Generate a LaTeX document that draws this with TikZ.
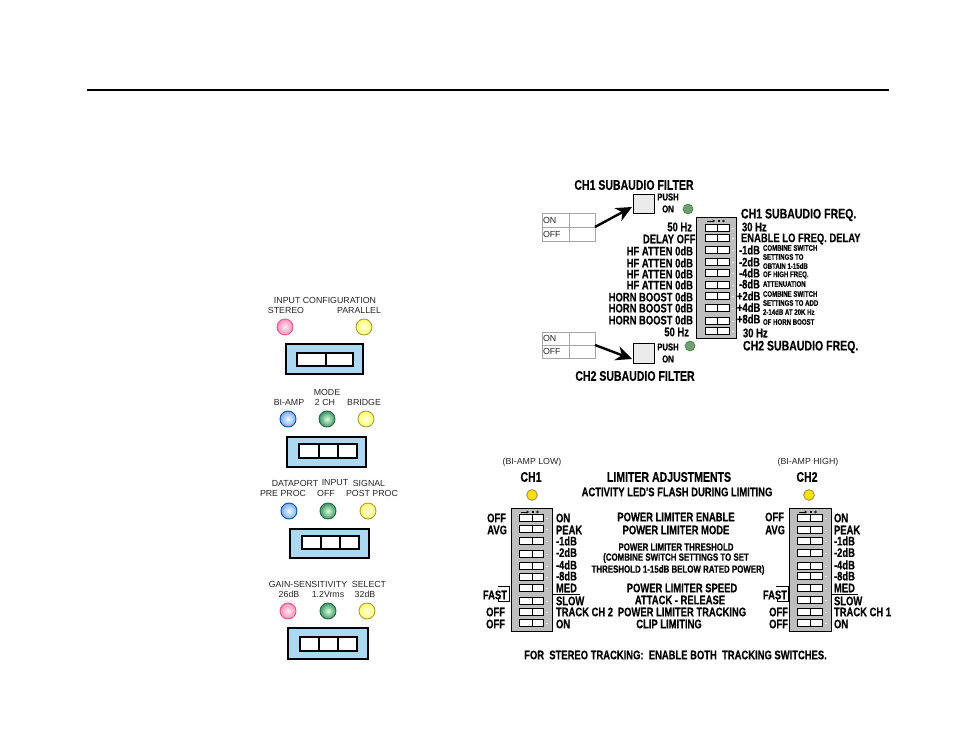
\documentclass[tikz,border=0pt]{standalone}
\usepackage{fontspec}
\usetikzlibrary{arrows.meta}
\setmainfont{Liberation Sans}
\newfontfamily\cb[FakeStretch=0.76,FakeBold=0.25]{Liberation Sans}
\definecolor{panelblue}{HTML}{ADD8F2}
\definecolor{panelgray}{HTML}{BEBEBE}
\definecolor{ledgreen}{HTML}{3F9468}
\tikzset{
  every node/.style={inner sep=0pt,outer sep=0pt},
  thinlab/.style={font=\fontsize{6.6pt}{7pt}\selectfont,text=black!85},
  fA/.style={font=\cb\bfseries\fontsize{10.4pt}{11pt}\selectfont},
  fB/.style={font=\cb\bfseries\fontsize{9.3pt}{10pt}\selectfont},
  fC/.style={font=\cb\bfseries\fontsize{7.8pt}{8pt}\selectfont},
  fD/.style={font=\cb\bfseries\fontsize{6pt}{6pt}\selectfont},
  fP/.style={font=\cb\bfseries\fontsize{7.6pt}{8pt}\selectfont},
  ledbase/.style={circle,draw=#1,line width=0.7pt,minimum size=12pt},
  ledpink/.style={ledbase=black!20!magenta!60!red!70,inner color=pink!30!white,outer color=magenta!45!red!45!white},
  ledyel/.style={ledbase=yellow!60!black,inner color=yellow!10,outer color=yellow!60!white},
  ledblue/.style={ledbase=blue!40!cyan!60!black,inner color=cyan!8,outer color=cyan!30!blue!50!white},
  ledgrn/.style={ledbase=ledgreen!70!black,inner color=white!85!green,outer color=ledgreen},
  subled/.style={circle,draw=green!35!black!70,fill=green!30!black!55!white,line width=0.6pt,minimum size=7.4pt},
  limled/.style={circle,draw=yellow!50!black,fill=yellow!92!red,line width=0.6pt,minimum size=8pt},
  bluebox/.style={draw=black,fill=panelblue,line width=0.8pt},
  inner/.style={draw=black,fill=white,line width=0.9pt},
  pushbtn/.style={draw=black,fill=black!8,line width=0.6pt},
  table/.style={draw=black!35,line width=0.5pt,fill=white},
  dippanel/.style={draw=black,fill=panelgray,line width=0.7pt},
  sw/.style={draw=black,fill=white,line width=0.7pt},
  bigarrow/.style={draw=black,line width=1.8pt,-{Stealth[length=12pt,width=11pt]}},
}
\newcount\lc
\newcommand\T[4][]{\global\advance\lc by 1\relax\node[name=L\the\lc,#1] at (#2,#3) {#4};}
% blue selector: x1 y1 x2 y2 ix1 iy1 ix2 iy2 and dividers
\newcommand\Sel[9]{%
  \global\advance\lc by 1\relax
  \node[name=B\the\lc,bluebox,anchor=north west,minimum width=#3*0.75pt-#1*0.75pt,minimum height=#4*0.75pt-#2*0.75pt] at (#1,#2) {};
  \node[name=I\the\lc,inner,anchor=north west,minimum width=#7*0.75pt-#5*0.75pt,minimum height=#8*0.75pt-#6*0.75pt] at (#5,#6) {};
  \foreach \d in {#9} \draw[line width=0.8pt] (\d,#6) -- (\d,#8);
}
% DIP switch row: x1 xm x2 y
\newcommand\Dip[4]{%
  \draw[sw] (#1,#4-3.2) rectangle (#3,#4+3.2);
  \draw[line width=0.7pt] (#2,#4-3.2) -- (#2,#4+3.2);
  \draw[white,line width=0.7pt] (#3+2.5,#4) -- (#3+5,#4);
}
\newcommand\DipHead[3]{%
  \draw[line width=0.5pt,-{Stealth[length=2pt,width=2pt]}] (#1+2,#3) -- (#1+10,#3);
  \fill (#1+13,#3-0.8) rectangle (#1+15,#3+0.8);
  \draw[line width=0.4pt] (#1+18.5,#3) circle (1);
}
\begin{document}
\begin{tikzpicture}[x=0.75pt,y=-0.75pt]
\useasboundingbox (0,0) rectangle (954,737);
\fill[white] (0,0) rectangle (954,737);
\draw[line width=1.1pt] (87,90) -- (889,90);

% --- left column
\T[thinlab]{325}{300}{INPUT CONFIGURATION}
\T[thinlab]{286}{310}{STEREO}
\T[thinlab]{359}{310}{PARALLEL}
\node[ledpink] (led1) at (285,327) {};
\node[ledyel] (led2) at (364,327) {};
\Sel{286}{344}{363}{374}{297}{353}{353}{366}{326}

\T[thinlab]{327}{392}{MODE}
\T[thinlab]{289}{402}{BI-AMP}
\T[thinlab]{325}{402}{2 CH}
\T[thinlab]{364}{402}{BRIDGE}
\node[ledblue] (led3) at (288,419) {};
\node[ledgrn] (led4) at (327,419) {};
\node[ledyel] (led5) at (366,419) {};
\Sel{287}{437}{366}{467}{299}{444}{357}{458}{319,338}

\T[thinlab]{295}{483}{DATAPORT}
\T[thinlab]{335}{483}{INPUT}
\T[thinlab]{369}{483}{SIGNAL}
\T[thinlab]{283}{493}{PRE PROC}
\T[thinlab]{326}{493}{OFF}
\T[thinlab]{372}{493}{POST PROC}
\node[ledblue] (led6) at (289,511) {};
\node[ledgrn] (led7) at (328,511) {};
\node[ledyel] (led8) at (368,511) {};
\Sel{290}{529}{369}{558}{302}{536}{359}{549}{321,340}

\T[thinlab]{308}{584}{GAIN-SENSITIVITY}
\T[thinlab]{369}{584}{SELECT}
\T[thinlab]{289}{594}{26dB}
\T[thinlab]{328}{594}{1.2Vrms}
\T[thinlab]{365}{594}{32dB}
\node[ledpink] (led9) at (288,611) {};
\node[ledgrn] (led10) at (328,611) {};
\node[ledyel] (led11) at (367,611) {};
\Sel{288}{628}{368}{659}{300}{637}{357}{651}{319,338}

% --- subaudio
\T[fA]{634}{185}{CH1 SUBAUDIO FILTER}
\T[fA]{635}{376}{CH2 SUBAUDIO FILTER}
\node[pushbtn,anchor=north west,minimum width=15.75pt,minimum height=14.25pt] (btnA) at (633,194) {};
\node[pushbtn,anchor=north west,minimum width=15.75pt,minimum height=15pt] (btnB) at (633,343) {};
\T[fP]{668}{197}{PUSH}
\T[fP]{668}{209}{ON}
\T[fP]{668}{347}{PUSH}
\T[fP]{668}{359}{ON}
\node[subled] (subled1) at (688,209) {};
\node[subled] (subled2) at (690,346) {};

\node[table,anchor=north west,minimum width=39.75pt,minimum height=21pt] (tabA) at (542,213) {};
\draw[table] (542,227) -- (595,227) (569,213) -- (569,241);
\T[anchor=west,thinlab]{543}{220}{ON}
\T[anchor=west,thinlab]{543}{234}{OFF}
\node[table,anchor=north west,minimum width=39.75pt,minimum height=19.5pt] (tabB) at (542,332) {};
\draw[table] (542,345) -- (595,345) (569,332) -- (569,358);
\T[anchor=west,thinlab]{543}{338.5}{ON}
\T[anchor=west,thinlab]{543}{351.5}{OFF}
\coordinate (inA) at (632,207);
\coordinate (inB) at (632,359);
\draw[bigarrow] (tabA.east) -- (inA);
\draw[bigarrow] (tabB.east) -- (inB);

\node[dippanel,anchor=north west,minimum width=30pt,minimum height=90.75pt] (dipS) at (696,217) {};
\foreach \y in {228,238,250,262,273,285,296,308,321,331} {\Dip{705}{717}{729}{\y}}
\DipHead{705}{717}{221}

\T[fB,anchor=east]{692}{227}{50 Hz}
\T[fB,anchor=east]{689}{332}{50 Hz}
\T[fB,anchor=east]{695.5}{239}{DELAY OFF}
\foreach \y in {251,263,274,285} {\node[fB,anchor=east] at (693,\y) {HF ATTEN 0dB};}
\foreach \y in {297,308,320} {\node[fB,anchor=east] at (693,\y) {HORN BOOST 0dB};}

\T[fA,anchor=west]{741}{215}{CH1 SUBAUDIO FREQ.}
\T[fB,anchor=west]{742}{227}{30 Hz}
\T[fB,anchor=west]{741}{239}{ENABLE LO FREQ. DELAY}
\T[fB,anchor=west]{739}{250}{-1dB}
\T[fB,anchor=west]{739}{262}{-2dB}
\T[fB,anchor=west]{739}{273}{-4dB}
\T[fB,anchor=west]{739}{284}{-8dB}
\T[fB,anchor=west]{737}{296}{+2dB}
\T[fB,anchor=west]{737}{307.5}{+4dB}
\T[fB,anchor=west]{737}{319}{+8dB}
\T[fD,anchor=west]{763}{248}{COMBINE SWITCH}
\T[fD,anchor=west]{763}{257}{SETTINGS TO}
\T[fD,anchor=west]{763}{266}{OBTAIN 1-15dB}
\T[fD,anchor=west]{763}{275}{OF HIGH FREQ.}
\T[fD,anchor=west]{763}{284}{ATTENUATION}
\T[fD,anchor=west]{763}{294}{COMBINE SWITCH}
\T[fD,anchor=west]{763}{303}{SETTINGS TO ADD}
\T[fD,anchor=west]{763}{312}{2-14dB AT 20K Hz}
\T[fD,anchor=west]{763}{322}{OF HORN BOOST}
\T[fB,anchor=west]{743}{333}{30 Hz}
\T[fA,anchor=west]{743}{347}{CH2 SUBAUDIO FREQ.}

% --- limiter
\T[thinlab]{532}{462}{(BI-AMP LOW)}
\T[thinlab]{808}{462}{(BI-AMP HIGH)}
\T[fA]{531}{477}{CH1}
\T[fA]{807}{477}{CH2}
\T[fA]{669}{477}{LIMITER ADJUSTMENTS}
\T[fB]{677}{492}{ACTIVITY LED'S FLASH DURING LIMITING}
\node[limled] (limled1) at (532,495) {};
\node[limled] (limled2) at (809,495) {};

\node[dippanel,anchor=north west,minimum width=30.75pt,minimum height=92.25pt] (dipL) at (511,508) {};
\node[dippanel,anchor=north west,minimum width=31.5pt,minimum height=92.25pt] (dipR) at (789,508) {};
\foreach \y in {518,529,541,554,566,577,588,601,612,623} {\Dip{519}{532}{543}{\y}}
\foreach \y in {518,530,541,553,566,576,588,600,612,623} {\Dip{797}{810}{822}{\y}}
\DipHead{519}{532}{512}
\DipHead{797}{810}{512}

\T[fB]{676}{517}{POWER LIMITER ENABLE}
\T[fB]{676}{530}{POWER LIMITER MODE}
\T[fC]{676}{547}{POWER LIMITER THRESHOLD}
\T[fC]{676}{558}{(COMBINE SWITCH SETTINGS TO SET}
\T[fC]{678}{570}{THRESHOLD 1-15dB BELOW RATED POWER)}
\T[fB]{682}{588}{POWER LIMITER SPEED}
\T[fB]{680}{600}{ATTACK - RELEASE}
\T[fB]{682}{612}{POWER LIMITER TRACKING}
\T[fB]{669}{624}{CLIP LIMITING}
\T[fB]{675.5}{655}{FOR\ \ STEREO TRACKING:\ \ ENABLE BOTH\ \ TRACKING SWITCHES.}

% left side labels CH1
\T[fB,anchor=east]{506}{518}{OFF}
\T[fB,anchor=east]{507}{530}{AVG}
\T[fB,anchor=east]{507}{595}{FAST}
\T[fB,anchor=east]{505}{612}{OFF}
\T[fB,anchor=east]{505}{624}{OFF}
\draw[line width=0.6pt] (498,586) -- (509,586) (509,586) -- (509,601) -- (498,601) -- (498,599);
% right side labels CH1
\T[fB,anchor=west]{556}{518}{ON}
\T[fB,anchor=west]{556}{530}{PEAK}
\T[fB,anchor=west]{556}{541}{-1dB}
\T[fB,anchor=west]{556}{552.5}{-2dB}
\T[fB,anchor=west]{556}{565}{-4dB}
\T[fB,anchor=west]{556}{576}{-8dB}
\T[fB,anchor=west]{556}{588}{MED}
\T[fB,anchor=west]{556}{601}{SLOW}
\T[fB,anchor=west]{556}{612}{TRACK CH 2}
\T[fB,anchor=west]{556}{624}{ON}
\draw[line width=0.6pt] (552,594) -- (580,594);

% CH2
\T[fB,anchor=east]{784}{517}{OFF}
\T[fB,anchor=east]{785}{530}{AVG}
\T[fB,anchor=east]{787}{595}{FAST}
\T[fB,anchor=east]{788}{612}{OFF}
\T[fB,anchor=east]{788}{624}{OFF}
\draw[line width=0.6pt] (776,586) -- (788,586) (788,586) -- (788,601) -- (777,601) -- (777,599);
\T[fB,anchor=west]{834}{518}{ON}
\T[fB,anchor=west]{834}{530}{PEAK}
\T[fB,anchor=west]{834}{541}{-1dB}
\T[fB,anchor=west]{834}{552.5}{-2dB}
\T[fB,anchor=west]{834}{565}{-4dB}
\T[fB,anchor=west]{834}{576}{-8dB}
\T[fB,anchor=west]{834}{588}{MED}
\T[fB,anchor=west]{834}{601}{SLOW}
\T[fB,anchor=west]{834}{612}{TRACK CH 1}
\T[fB,anchor=west]{834}{624}{ON}
\draw[line width=0.6pt] (831,594) -- (858,594);
\end{tikzpicture}
\end{document}
